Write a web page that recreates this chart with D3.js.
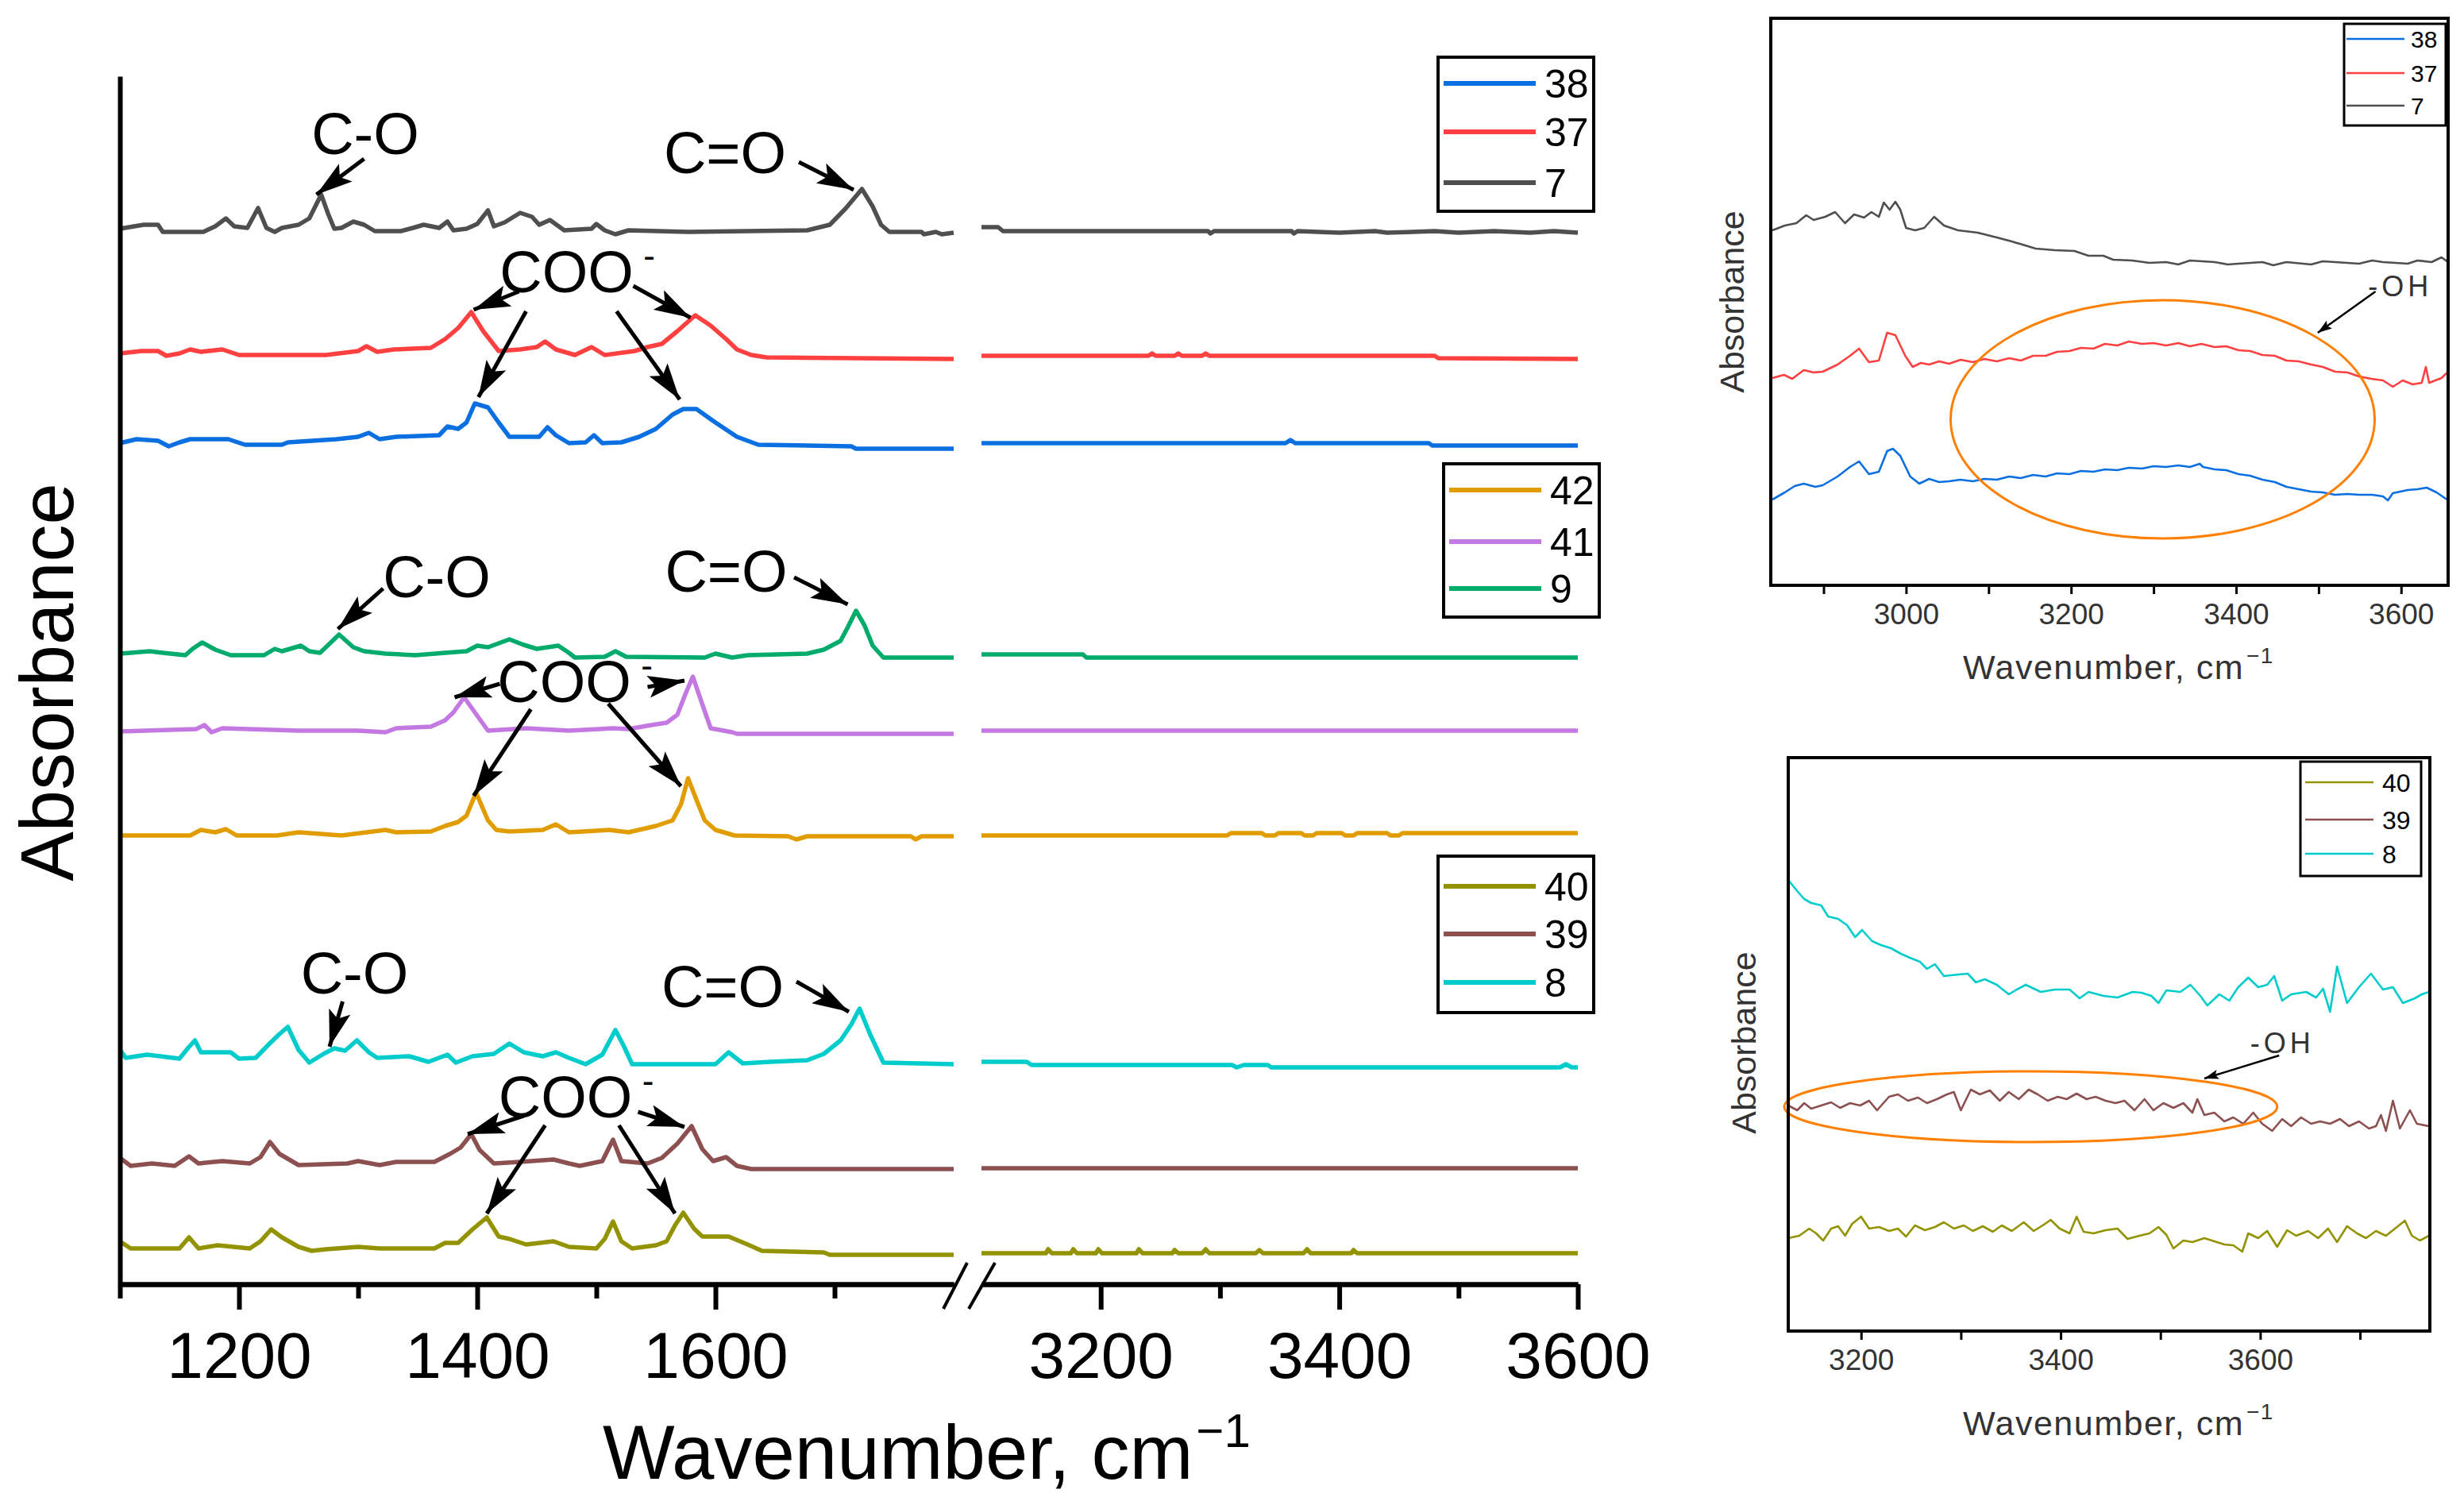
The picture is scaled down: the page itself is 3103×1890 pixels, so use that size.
<!DOCTYPE html>
<html>
<head>
<meta charset="utf-8">
<script src="https://cdn.jsdelivr.net/npm/d3@7"></script>
<style>
  body { margin: 0; background: #fff; }
  svg { display: block; }
  text { font-family: "Liberation Sans", Arial, sans-serif; }
</style>
</head>
<body>
<svg id="chart" width="3103" height="1890"></svg>
<script>
// ---- main panel, low range (cm-1, stacked absorbance a.u.)
const spec7 = [[1100,132.9],[1120,133.4],[1132,133.4],[1136,132.5],[1170,132.5],[1180,133.2],[1189,134.2],[1196,133.2],[1207,133.0],[1216,135.5],[1223,133.0],[1230,132.5],[1236,133.0],[1250,133.4],[1259,134.2],[1269,137.2],[1275,134.7],[1280,132.9],[1286,133.0],[1296,133.8],[1305,133.4],[1314,132.6],[1336,132.6],[1346,133.0],[1355,133.4],[1368,133.0],[1375,133.8],[1380,132.7],[1391,132.9],[1400,133.5],[1409,135.2],[1414,133.2],[1423,133.7],[1436,134.9],[1446,134.4],[1452,133.4],[1461,134.0],[1473,132.7],[1496,132.9],[1500,133.5],[1507,132.7],[1516,132.2],[1527,132.7],[1577,132.5],[1677,132.7],[1696,133.4],[1709,135.4],[1723,137.9],[1732,135.7],[1739,133.4],[1746,132.5],[1773,132.5],[1775,132.2],[1785,132.5],[1790,132.2],[1800,132.4]];
const spec37 = [[1100,117.2],[1118,117.5],[1132,117.5],[1139,116.9],[1150,117.2],[1159,117.7],[1168,117.4],[1186,117.7],[1200,117.0],[1273,117.0],[1300,117.5],[1307,118.1],[1316,117.4],[1330,117.7],[1361,117.9],[1373,119.0],[1384,120.4],[1395,122.4],[1405,120.0],[1418,117.5],[1436,117.7],[1450,118.0],[1457,118.7],[1466,117.7],[1482,117.0],[1496,118.0],[1507,117.0],[1532,117.5],[1543,118.0],[1555,118.4],[1568,120.0],[1583,122.0],[1596,120.7],[1609,119.0],[1618,117.7],[1630,117.0],[1643,116.7],[1800,116.5]];
const spec38 = [[1100,105.9],[1114,106.4],[1132,106.2],[1141,105.5],[1150,106.0],[1159,106.4],[1191,106.4],[1205,105.7],[1236,105.7],[1241,106.0],[1282,106.4],[1300,106.7],[1309,107.2],[1318,106.4],[1332,106.7],[1368,106.9],[1375,108.0],[1384,107.7],[1391,108.5],[1398,110.9],[1409,110.4],[1418,108.5],[1427,106.7],[1452,106.7],[1459,107.9],[1466,106.9],[1477,105.9],[1491,106.0],[1498,106.9],[1505,105.9],[1521,106.0],[1536,106.7],[1550,107.7],[1564,109.5],[1573,110.2],[1584,110.2],[1600,108.5],[1618,106.7],[1636,105.7],[1714,105.5],[1718,105.2],[1800,105.2]];
const spec9 = [[1100,79.4],[1109,79.5],[1125,79.7],[1136,79.5],[1155,79.2],[1161,80.0],[1169,80.8],[1180,79.9],[1193,79.2],[1221,79.2],[1230,80.0],[1236,79.7],[1252,80.4],[1259,79.7],[1268,79.5],[1284,81.8],[1296,80.2],[1305,79.7],[1323,79.4],[1348,79.2],[1373,79.5],[1391,79.7],[1400,80.4],[1409,80.2],[1427,81.2],[1439,80.5],[1450,80.0],[1468,80.4],[1477,79.5],[1482,78.9],[1507,79.0],[1516,79.7],[1525,79.0],[1591,78.9],[1600,79.4],[1614,78.9],[1627,79.2],[1677,79.4],[1691,79.9],[1705,81.0],[1711,82.7],[1718,84.8],[1725,83.0],[1732,80.4],[1741,78.9],[1800,78.9]];
const spec41 = [[1100,69.6],[1164,69.9],[1171,70.4],[1177,69.5],[1186,70.0],[1250,69.7],[1300,69.7],[1323,69.5],[1332,70.0],[1361,70.2],[1373,71.0],[1380,72.0],[1389,73.9],[1398,72.0],[1409,69.7],[1441,70.0],[1477,69.7],[1514,70.0],[1527,69.9],[1546,70.4],[1559,70.7],[1568,71.7],[1575,74.4],[1581,76.5],[1589,73.0],[1596,70.0],[1614,69.5],[1618,69.3],[1800,69.3]];
const spec42 = [[1100,56.5],[1159,56.5],[1168,57.2],[1180,56.9],[1189,57.3],[1198,56.5],[1232,56.5],[1250,56.9],[1286,56.5],[1323,57.2],[1332,56.9],[1361,57.0],[1373,57.7],[1384,58.2],[1391,59.0],[1399,61.9],[1409,58.4],[1416,57.2],[1427,57.0],[1455,57.2],[1466,57.9],[1477,56.9],[1511,57.2],[1527,56.9],[1550,57.7],[1564,58.4],[1571,60.4],[1577,63.7],[1584,61.0],[1591,58.4],[1600,57.2],[1616,56.5],[1661,56.4],[1668,56.0],[1677,56.4],[1764,56.4],[1768,56.0],[1773,56.4],[1800,56.4]];
const spec8 = [[1100,29.5],[1105,28.5],[1123,28.9],[1150,28.4],[1157,29.7],[1163,30.7],[1168,29.2],[1193,29.2],[1200,28.4],[1214,28.5],[1225,30.2],[1234,31.5],[1241,32.4],[1250,29.5],[1259,27.9],[1271,29.0],[1280,29.7],[1289,29.4],[1299,30.7],[1309,29.2],[1316,28.5],[1343,28.7],[1359,28.0],[1375,28.9],[1382,27.9],[1396,28.7],[1414,29.0],[1427,30.3],[1439,29.2],[1455,28.7],[1466,29.2],[1477,28.5],[1491,27.7],[1505,28.9],[1516,32.0],[1523,30.0],[1530,27.7],[1600,27.7],[1611,29.2],[1623,27.8],[1646,28.0],[1677,28.2],[1691,29.0],[1705,30.7],[1714,32.7],[1721,34.7],[1730,31.4],[1741,27.9],[1800,27.7]];
const spec39 = [[1100,15.9],[1109,14.9],[1127,15.2],[1146,14.9],[1158,16.1],[1166,15.2],[1186,15.5],[1209,15.2],[1218,16.0],[1226,17.9],[1234,16.4],[1250,15.0],[1291,15.2],[1300,15.5],[1318,15.0],[1332,15.4],[1364,15.4],[1377,16.4],[1386,17.2],[1395,18.9],[1402,16.9],[1414,15.2],[1436,15.4],[1464,15.7],[1477,15.2],[1486,14.9],[1505,15.5],[1514,18.2],[1521,15.5],[1543,15.2],[1555,15.9],[1568,17.7],[1580,19.9],[1589,17.0],[1598,15.5],[1609,16.0],[1618,14.9],[1630,14.5],[1800,14.5]];
const spec40 = [[1100,5.4],[1109,4.5],[1150,4.5],[1158,5.9],[1166,4.5],[1182,4.9],[1209,4.5],[1218,5.4],[1227,6.9],[1236,5.9],[1250,4.7],[1261,4.2],[1273,4.4],[1300,4.7],[1318,4.5],[1364,4.5],[1373,5.2],[1384,5.2],[1396,6.9],[1408,8.4],[1418,6.0],[1427,5.7],[1441,5.0],[1464,5.4],[1477,4.7],[1500,4.5],[1507,5.7],[1514,7.9],[1521,5.4],[1530,4.5],[1550,4.9],[1559,5.4],[1566,7.4],[1573,9.0],[1582,7.0],[1589,6.0],[1611,6.0],[1627,5.0],[1639,4.2],[1691,4.0],[1696,3.7],[1800,3.7]];

// ---- main panel, high range
const spec7Hi = [[3100,133.1],[3114,133.1],[3118,132.6],[3290,132.6],[3292,132.3],[3295,132.6],[3360,132.6],[3362,132.3],[3365,132.6],[3400,132.4],[3430,132.6],[3440,132.4],[3480,132.6],[3500,132.4],[3530,132.6],[3560,132.4],[3580,132.6],[3600,132.4]];
const spec37Hi = [[3100,116.9],[3240,116.9],[3243,117.2],[3246,116.9],[3262,116.9],[3265,117.2],[3268,116.9],[3285,116.9],[3288,117.2],[3291,116.9],[3480,116.9],[3483,116.6],[3600,116.5]];
const spec38Hi = [[3100,105.9],[3355,105.9],[3359,106.3],[3363,105.9],[3475,105.9],[3478,105.6],[3600,105.6]];
const spec9Hi = [[3100,79.3],[3185,79.3],[3188,78.9],[3600,78.9]];
const spec41Hi = [[3100,69.7],[3600,69.7]];
const spec42Hi = [[3100,56.5],[3306,56.5],[3309,56.8],[3335,56.8],[3338,56.5],[3346,56.5],[3349,56.8],[3368,56.8],[3371,56.5],[3378,56.5],[3381,56.8],[3402,56.8],[3405,56.5],[3412,56.5],[3415,56.8],[3440,56.8],[3443,56.5],[3450,56.5],[3453,56.8],[3600,56.8]];
const spec8Hi = [[3100,28.0],[3138,28.0],[3142,27.6],[3310,27.6],[3314,27.3],[3320,27.6],[3340,27.6],[3343,27.3],[3585,27.3],[3590,27.7],[3595,27.3],[3600,27.3]];
const spec39Hi = [[3100,14.6],[3600,14.6]];
const spec40Hi = [[3100,3.9],[3154,3.9],[3156,4.4],[3159,3.9],[3175,3.9],[3177,4.4],[3180,3.9],[3196,3.9],[3198,4.4],[3201,3.9],[3230,3.9],[3232,4.4],[3235,3.9],[3260,3.9],[3262,4.3],[3265,3.9],[3285,3.9],[3288,4.4],[3291,3.9],[3330,3.9],[3333,4.3],[3336,3.9],[3370,3.9],[3373,4.4],[3376,3.9],[3410,3.9],[3412,4.3],[3415,3.9],[3600,3.9]];

// ---- inset 1 (OH region of 7, 37, 38)
const oh7 = [[2838,44.7],[2853,45.3],[2867,45.6],[2879,46.6],[2888,46.0],[2902,46.4],[2914,47.0],[2926,45.6],[2937,46.7],[2949,46.3],[2958,47.0],[2967,46.4],[2973,48.2],[2980,47.3],[2987,48.3],[2993,47.3],[3000,45.0],[3011,44.7],[3022,45.0],[3034,46.4],[3046,45.3],[3063,44.7],[3087,44.4],[3110,43.8],[3128,43.3],[3157,42.4],[3180,42.2],[3204,42.1],[3221,41.5],[3239,41.5],[3251,41.0],[3274,40.9],[3295,40.6],[3315,40.7],[3330,40.4],[3344,40.9],[3374,40.7],[3390,40.4],[3403,40.5],[3432,40.7],[3445,40.3],[3461,40.7],[3491,40.4],[3505,40.8],[3520,40.7],[3549,40.5],[3565,40.9],[3578,40.7],[3608,40.5],[3620,40.9],[3637,40.7],[3649,41.3],[3657,40.7]];
const oh37 = [[2838,26.1],[2852,26.5],[2862,26.0],[2876,27.1],[2888,26.8],[2899,26.9],[2917,27.8],[2932,28.9],[2943,29.8],[2955,28.1],[2967,28.3],[2977,31.8],[2987,31.5],[2999,28.9],[3008,27.5],[3018,28.0],[3028,27.8],[3040,28.2],[3052,27.9],[3066,28.4],[3081,28.1],[3095,28.5],[3110,28.2],[3125,28.6],[3139,28.3],[3154,28.9],[3169,28.9],[3183,29.4],[3198,29.5],[3212,29.9],[3227,29.8],[3241,30.4],[3256,30.2],[3270,30.7],[3286,30.4],[3300,30.5],[3315,30.2],[3330,30.5],[3344,30.1],[3358,30.4],[3374,30.0],[3388,30.1],[3403,29.6],[3417,29.5],[3432,29.0],[3447,28.9],[3461,28.3],[3476,28.2],[3491,27.8],[3505,27.5],[3520,26.9],[3535,26.8],[3549,26.3],[3564,26.0],[3578,25.8],[3590,25.0],[3602,25.8],[3614,25.3],[3625,25.5],[3630,27.5],[3634,25.5],[3649,26.1],[3657,26.9]];
const oh38 = [[2838,10.8],[2853,11.7],[2865,12.5],[2876,12.8],[2890,12.4],[2899,12.6],[2917,13.7],[2932,14.9],[2943,15.6],[2955,14.0],[2967,14.3],[2977,16.9],[2984,17.2],[2993,16.3],[3005,13.7],[3016,12.8],[3028,13.4],[3040,13.0],[3052,13.1],[3066,13.3],[3081,13.1],[3095,13.4],[3110,13.3],[3125,13.7],[3139,13.5],[3154,13.9],[3169,13.7],[3183,14.1],[3198,14.0],[3212,14.4],[3227,14.3],[3241,14.6],[3256,14.5],[3270,14.8],[3286,14.7],[3300,15.0],[3315,14.9],[3330,15.1],[3344,14.9],[3356,15.3],[3360,14.9],[3374,14.6],[3388,14.5],[3403,14.0],[3417,13.8],[3432,13.3],[3447,13.0],[3461,12.4],[3476,12.1],[3491,11.8],[3505,11.7],[3520,11.4],[3535,11.5],[3549,11.4],[3565,11.4],[3578,11.2],[3584,10.7],[3590,11.6],[3608,12.0],[3620,12.1],[3631,12.3],[3643,11.7],[3657,10.7]];

// ---- inset 2 (OH region of 8, 39, 40)
const oh8 = [[3127,56.8],[3136,55.4],[3143,54.4],[3150,53.9],[3160,53.6],[3167,52.2],[3177,51.9],[3186,51.1],[3194,49.6],[3201,50.5],[3211,49.1],[3220,48.6],[3230,48.2],[3240,47.5],[3249,47.0],[3259,46.5],[3266,45.6],[3274,46.2],[3283,44.7],[3298,44.9],[3307,45.0],[3315,43.9],[3324,44.3],[3336,43.6],[3348,42.4],[3356,43.0],[3365,43.6],[3380,42.7],[3394,43.0],[3409,43.0],[3419,41.9],[3428,42.7],[3443,42.2],[3457,42.0],[3472,42.7],[3481,42.6],[3491,42.2],[3498,41.3],[3506,42.9],[3520,42.7],[3530,43.6],[3540,42.2],[3547,41.0],[3559,42.4],[3569,41.6],[3578,43.3],[3588,44.5],[3598,43.3],[3607,43.6],[3614,44.7],[3622,41.6],[3631,42.4],[3646,42.7],[3656,42.0],[3663,43.1],[3670,40.2],[3677,45.9],[3687,41.3],[3699,43.3],[3711,45.0],[3723,43.0],[3733,43.3],[3743,41.3],[3755,41.9],[3762,42.4],[3769,42.7]];
const oh39 = [[3127,28.4],[3136,27.8],[3143,28.7],[3150,28.0],[3160,28.4],[3170,28.8],[3179,28.1],[3189,28.7],[3199,28.4],[3208,29.0],[3216,27.8],[3228,29.5],[3237,29.8],[3247,29.0],[3257,29.4],[3266,28.7],[3276,29.2],[3286,29.8],[3293,30.1],[3300,27.8],[3310,30.4],[3319,29.8],[3329,30.3],[3339,29.0],[3348,30.1],[3358,29.2],[3368,30.4],[3377,29.8],[3387,29.0],[3397,29.5],[3406,29.2],[3416,29.9],[3426,29.2],[3435,29.5],[3445,29.0],[3455,28.7],[3464,29.0],[3474,27.8],[3484,29.2],[3493,27.8],[3503,28.7],[3513,28.1],[3523,28.7],[3532,27.5],[3537,29.2],[3544,27.2],[3554,27.5],[3564,26.4],[3573,26.9],[3583,26.1],[3593,27.5],[3602,26.1],[3612,25.2],[3622,26.7],[3631,25.8],[3641,26.9],[3651,26.1],[3660,26.4],[3670,26.1],[3680,26.7],[3689,25.8],[3699,26.4],[3709,25.5],[3716,25.8],[3721,27.2],[3726,25.2],[3733,29.0],[3740,25.5],[3750,27.8],[3757,26.1],[3769,25.8]];
const oh40 = [[3127,11.7],[3138,12.0],[3148,12.9],[3155,12.3],[3162,11.4],[3170,12.9],[3177,13.2],[3184,12.0],[3191,13.5],[3200,14.4],[3208,12.9],[3218,13.1],[3228,12.6],[3237,12.9],[3245,11.9],[3254,13.3],[3264,12.7],[3274,13.1],[3283,13.7],[3293,12.9],[3303,13.3],[3312,12.6],[3322,13.2],[3332,12.5],[3341,13.3],[3351,12.6],[3363,13.7],[3373,12.6],[3382,13.3],[3390,14.0],[3399,12.9],[3409,12.3],[3416,14.4],[3423,12.5],[3433,12.3],[3445,12.7],[3457,12.9],[3467,11.6],[3479,12.0],[3489,12.3],[3498,13.1],[3506,12.1],[3513,10.4],[3523,11.4],[3532,11.2],[3544,11.7],[3554,11.3],[3564,10.9],[3573,10.8],[3582,10.0],[3588,12.3],[3598,11.7],[3607,12.6],[3617,10.6],[3627,12.7],[3636,12.0],[3648,12.6],[3658,11.7],[3668,12.9],[3677,11.2],[3687,13.2],[3697,12.3],[3706,11.7],[3716,12.6],[3726,12.0],[3735,12.9],[3745,13.9],[3752,12.0],[3760,11.4],[3769,12.0]];

// ---- ticks and legends
const lowMajor = [1200, 1400, 1600];
const lowMinor = [1100, 1300, 1500, 1700];
const highMajor = [3200, 3400, 3600];
const highMinor = [3300, 3500];
const inset1Ticks = [2900, 3000, 3100, 3200, 3300, 3400, 3500, 3600];
const inset2Ticks = [3200, 3300, 3400, 3500, 3600, 3700];
const legendTop = ["38", "37", "7"];
const legendMid = ["42", "41", "9"];
const legendBot = ["40", "39", "8"];

const colors = {
    "7": "#4f4f4f", "37": "#ff4040", "38": "#0a6fe0",
    "9": "#00ab6b", "41": "#c479e2", "42": "#e19c00",
    "8": "#00cccc", "39": "#8c5050", "40": "#939300"
};

const series = [
    {id: "7", low: spec7, high: spec7Hi}, {id: "37", low: spec37, high: spec37Hi}, {id: "38", low: spec38, high: spec38Hi},
    {id: "9", low: spec9, high: spec9Hi}, {id: "41", low: spec41, high: spec41Hi}, {id: "42", low: spec42, high: spec42Hi},
    {id: "8", low: spec8, high: spec8Hi}, {id: "39", low: spec39, high: spec39Hi}, {id: "40", low: spec40, high: spec40Hi}
];

const svg = d3.select("#chart");
const FONT = "Liberation Sans, Arial, sans-serif";

const defs = svg.append("defs");
const addHead = (id, len, wid) => defs.append("marker")
    .attr("id", id)
    .attr("markerUnits", "userSpaceOnUse")
    .attr("markerWidth", len).attr("markerHeight", wid)
    .attr("refX", len).attr("refY", wid / 2)
    .attr("orient", "auto")
    .append("path")
    .attr("d", "M0,0 L" + len + "," + (wid / 2) + " L0," + wid + " L" + (len * 0.2) + "," + (wid / 2) + " Z")
    .attr("fill", "#000");
addHead("bigHead", 46, 28);
addHead("smallHead", 18, 12);

// ---------------- main panel
const xLow = d3.scaleLinear().domain([1100, 1800]).range([151, 1201]);
const xHigh = d3.scaleLinear().domain([3100, 3600]).range([1236, 1987]);
const y = d3.scaleLinear().domain([0, 152.1]).range([1617, 96]);

const lineOf = (xs, ys) => d3.line().x(d => xs(d[0])).y(d => ys(d[1]));

const main = svg.append("g");

series.forEach(s => {
    [[xLow, s.low], [xHigh, s.high]].forEach(([xs, data]) => {
        main.append("path")
            .attr("d", lineOf(xs, y)(data))
            .attr("fill", "none")
            .attr("stroke", colors[s.id])
            .attr("stroke-width", 5.5)
            .attr("stroke-linejoin", "round");
    });
});

const styleAxis = (g, w) => {
    g.attr("font-family", FONT);
    g.select(".domain").attr("stroke-width", w);
    g.selectAll(".tick line").attr("stroke-width", w);
};

const bottomAxis = (xs, major, minor) => {
    const gMinor = main.append("g")
        .attr("transform", "translate(0,1617)")
        .call(d3.axisBottom(xs).tickValues(minor).tickSize(18).tickSizeOuter(0).tickFormat(""));
    const gMajor = main.append("g")
        .attr("transform", "translate(0,1617)")
        .call(d3.axisBottom(xs).tickValues(major).tickSize(32).tickSizeOuter(0).tickPadding(28).tickFormat(d3.format("d")));
    styleAxis(gMinor, 6);
    styleAxis(gMajor, 6);
    gMajor.selectAll("text").attr("font-size", 82).attr("fill", "#000");
};
bottomAxis(xLow, lowMajor, lowMinor);
bottomAxis(xHigh, highMajor, highMinor);

const leftAxis = main.append("g")
    .attr("transform", "translate(151,0)")
    .call(d3.axisLeft(y).tickValues([]).tickSizeOuter(0));
styleAxis(leftAxis, 6);

// axis break marks
[[1188, 1218], [1220, 1253]].forEach(([x0, x1]) => {
    main.append("line")
        .attr("x1", x0).attr("y1", 1648).attr("x2", x1).attr("y2", 1590)
        .attr("stroke", "#000").attr("stroke-width", 4);
});

main.append("text")
    .attr("x", 759).attr("y", 1862)
    .attr("font-size", 96)
    .text("Wavenumber, cm")
    .append("tspan")
    .attr("font-size", 60).attr("dy", -40).attr("dx", 4)
    .text("\u22121");

main.append("text")
    .attr("transform", "translate(92,859) rotate(-90)")
    .attr("text-anchor", "middle")
    .attr("font-size", 94)
    .text("Absorbance");

// legends
const drawLegend = (g, box, ids, rows, o) => {
    g.append("rect")
        .attr("x", box[0]).attr("y", box[1]).attr("width", box[2]).attr("height", box[3])
        .attr("fill", "#fff").attr("stroke", "#000").attr("stroke-width", o.border);
    ids.forEach((id, i) => {
        const yy = box[1] + rows[i];
        g.append("line")
            .attr("x1", box[0] + o.l0).attr("x2", box[0] + o.l1)
            .attr("y1", yy).attr("y2", yy)
            .attr("stroke", colors[id]).attr("stroke-width", o.lw);
        g.append("text")
            .attr("x", box[0] + o.tx).attr("y", yy + o.size * 0.36)
            .attr("font-size", o.size)
            .text(id);
    });
};
const mainLegendStyle = {border: 4, l0: 7, l1: 123, lw: 6, tx: 134, size: 50};
drawLegend(main, [1811, 72, 196, 194], legendTop, [33, 94, 158], mainLegendStyle);
drawLegend(main, [1818, 584, 196, 193], legendMid, [33, 98, 157], mainLegendStyle);
drawLegend(main, [1811, 1078, 196, 197], legendBot, [38, 98, 159], mainLegendStyle);

// peak annotations
const peakLabels = [
    {t: "C-O", w: 1306, a: 142.3}, {t: "C=O", w: 1608, a: 139.9}, {t: "COO", w: 1475, a: 124.9, ion: true},
    {t: "C-O", w: 1366, a: 86.5}, {t: "C=O", w: 1609, a: 87.2}, {t: "COO", w: 1473, a: 73.3, ion: true},
    {t: "C-O", w: 1297, a: 36.6}, {t: "C=O", w: 1606, a: 34.9}, {t: "COO", w: 1474, a: 21.0, ion: true}
];
const peakArrows = [
    [1305, 141.7, 1265, 137.2], [1670, 141.3, 1716, 137.8], [1435, 125.0, 1397, 122.7], [1531, 125.7, 1579, 121.7],
    [1441, 122.5, 1401, 111.7], [1517, 122.5, 1570, 111.4],
    [1321, 87.6, 1283, 82.5], [1666, 89.0, 1711, 85.6], [1419, 75.6, 1381, 73.9], [1543, 75.2, 1574, 76.0],
    [1445, 72.4, 1397, 61.5], [1510, 73.1, 1571, 62.7],
    [1287, 35.6, 1276, 29.9], [1668, 38.1, 1712, 34.3], [1439, 21.2, 1392, 18.9], [1535, 21.7, 1574, 19.8],
    [1457, 20.0, 1408, 8.9], [1519, 20.0, 1566, 8.9]
];

peakLabels.forEach(d => {
    main.append("text")
        .attr("x", xLow(d.w)).attr("y", y(d.a))
        .attr("text-anchor", "middle")
        .attr("font-size", 74)
        .text(d.t);
    if (d.ion) {
        main.append("text")
            .attr("x", xLow(d.w) + 104).attr("y", y(d.a) - 31)
            .attr("text-anchor", "middle")
            .attr("font-size", 44)
            .text("-");
    }
});

peakArrows.forEach(d => {
    main.append("line")
        .attr("x1", xLow(d[0])).attr("y1", y(d[1]))
        .attr("x2", xLow(d[2])).attr("y2", y(d[3]))
        .attr("stroke", "#000").attr("stroke-width", 5)
        .attr("marker-end", "url(#bigHead)");
});

// ---------------- insets
const drawInset = (cfg) => {
    const g = svg.append("g");
    const xs = d3.scaleLinear().domain(cfg.xDomain).range([cfg.left, cfg.right]);
    const ys = d3.scaleLinear().domain(cfg.yDomain).range([cfg.bottom, cfg.top]);

    g.append("clipPath").attr("id", cfg.id + "clip")
        .append("rect")
        .attr("x", cfg.left).attr("y", cfg.top)
        .attr("width", cfg.right - cfg.left).attr("height", cfg.bottom - cfg.top);

    const plot = g.append("g").attr("clip-path", "url(#" + cfg.id + "clip)");
    cfg.lines.forEach(([id, data]) => {
        plot.append("path")
            .attr("d", lineOf(xs, ys)(data))
            .attr("fill", "none")
            .attr("stroke", colors[id])
            .attr("stroke-width", 2.6)
            .attr("stroke-linejoin", "round");
    });

    // -OH region
    g.append("ellipse")
        .attr("cx", xs(cfg.ring[0])).attr("cy", ys(cfg.ring[1]))
        .attr("rx", xs(cfg.ring[0] + cfg.ring[2]) - xs(cfg.ring[0]))
        .attr("ry", ys(cfg.ring[1]) - ys(cfg.ring[1] + cfg.ring[3]))
        .attr("fill", "none").attr("stroke", "#ff8000").attr("stroke-width", 3);
    g.append("text")
        .attr("x", xs(cfg.ohText[0])).attr("y", ys(cfg.ohText[1]))
        .attr("font-size", 36).attr("letter-spacing", 5).attr("fill", "#333")
        .text("-OH");
    g.append("line")
        .attr("x1", xs(cfg.ohArrow[0])).attr("y1", ys(cfg.ohArrow[1]))
        .attr("x2", xs(cfg.ohArrow[2])).attr("y2", ys(cfg.ohArrow[3]))
        .attr("stroke", "#000").attr("stroke-width", 2.5)
        .attr("marker-end", "url(#smallHead)");

    g.append("rect")
        .attr("x", cfg.left).attr("y", cfg.top)
        .attr("width", cfg.right - cfg.left).attr("height", cfg.bottom - cfg.top)
        .attr("fill", "none").attr("stroke", "#000").attr("stroke-width", 4);

    const ax = g.append("g")
        .attr("transform", "translate(0," + cfg.bottom + ")")
        .call(d3.axisBottom(xs).tickValues(cfg.ticks).tickSize(11).tickSizeOuter(0).tickPadding(12)
            .tickFormat(d => d % 200 === 0 ? d : ""));
    styleAxis(ax, 3);
    ax.select(".domain").remove();
    ax.selectAll("text").attr("font-size", 37).attr("fill", "#333");

    g.append("text")
        .attr("x", cfg.titleX).attr("y", cfg.titleY)
        .attr("text-anchor", "middle")
        .attr("font-size", 43).attr("letter-spacing", 1.5).attr("fill", "#333")
        .text("Wavenumber, cm")
        .append("tspan")
        .attr("font-size", 28).attr("dy", -20).attr("dx", 3)
        .text("\u22121");

    g.append("text")
        .attr("transform", "translate(" + cfg.yTitleX + "," + cfg.yTitleY + ") rotate(-90)")
        .attr("text-anchor", "middle")
        .attr("font-size", 43).attr("fill", "#333")
        .text("Absorbance");

    drawLegend(g, cfg.legendBox, cfg.legendIds, cfg.legendRows, cfg.legendStyle);
};

drawInset({
    id: "in1",
    xDomain: [2836, 3657], yDomain: [0, 71.4],
    left: 2230, right: 3083, top: 23, bottom: 737,
    lines: [["7", oh7], ["37", oh37], ["38", oh38]],
    ring: [3311, 20.9, 257, 15.0],
    ohText: [3560, 36.4],
    ohArrow: [3569, 37.0, 3499, 31.8],
    ticks: inset1Ticks,
    titleX: 2668, titleY: 855,
    yTitleX: 2196, yTitleY: 380,
    legendBox: [2952, 30, 128, 128], legendIds: legendTop, legendRows: [19, 62, 103],
    legendStyle: {border: 3, l0: 3, l1: 76, lw: 2.6, tx: 84, size: 30}
});

drawInset({
    id: "in2",
    xDomain: [3127, 3770], yDomain: [0, 72.2],
    left: 2252, right: 3060, top: 954, bottom: 1676,
    lines: [["8", oh8], ["39", oh39], ["40", oh40]],
    ring: [3370, 28.25, 247, 4.45],
    ohText: [3590, 35.0],
    ohArrow: [3619, 34.7, 3544, 31.8],
    ticks: inset2Ticks,
    titleX: 2668, titleY: 1807,
    yTitleX: 2211, yTitleY: 1313,
    legendBox: [2897, 959, 152, 144], legendIds: legendBot, legendRows: [26, 73, 116],
    legendStyle: {border: 3, l0: 6, l1: 92, lw: 2.6, tx: 103, size: 32}
});
</script>
</body>
</html>
